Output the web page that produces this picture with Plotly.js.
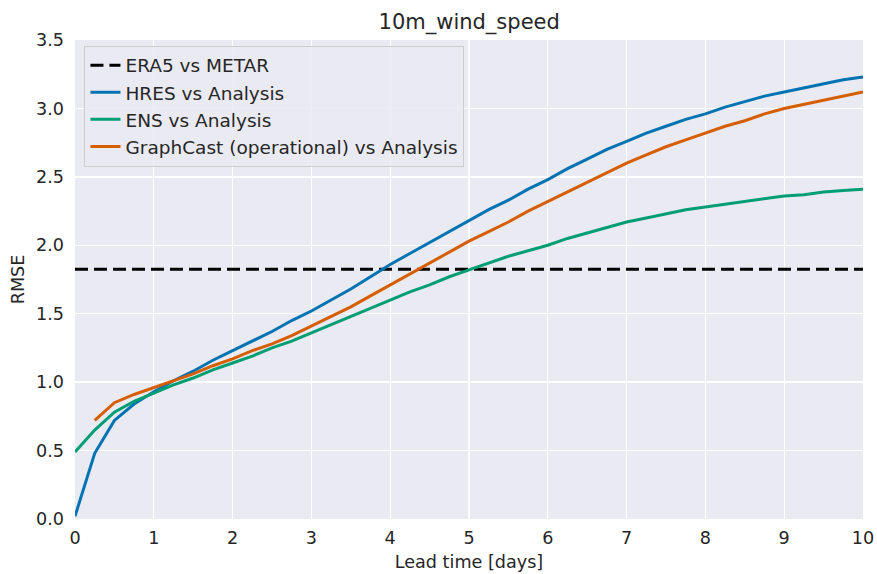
<!DOCTYPE html>
<html><head><meta charset="utf-8">
<script src="https://cdn.plot.ly/plotly-3.0.1.min.js"></script>
<style>body{margin:0;padding:0;}#chart{width:877px;height:574px;}</style>
</head><body><div id="chart"></div>
<script>
const leadDays = [0,0.25,0.5,0.75,1,1.25,1.5,1.75,2,2.25,2.5,2.75,3,3.25,3.5,3.75,4,4.25,4.5,4.75,5,5.25,5.5,5.75,6,6.25,6.5,6.75,7,7.25,7.5,7.75,8,8.25,8.5,8.75,9,9.25,9.5,9.75,10];
const hres = [0.02,0.48,0.72,0.84,0.93,1.01,1.08,1.16,1.23,1.30,1.37,1.45,1.52,1.60,1.68,1.77,1.86,1.94,2.02,2.10,2.18,2.26,2.33,2.41,2.48,2.56,2.63,2.70,2.76,2.82,2.87,2.92,2.96,3.01,3.05,3.09,3.12,3.15,3.18,3.21,3.23];
const ens = [0.49,0.65,0.78,0.86,0.92,0.98,1.03,1.09,1.14,1.19,1.25,1.30,1.36,1.42,1.48,1.54,1.60,1.66,1.71,1.77,1.82,1.87,1.92,1.96,2.00,2.05,2.09,2.13,2.17,2.20,2.23,2.26,2.28,2.30,2.32,2.34,2.36,2.37,2.39,2.40,2.41];
const graphcastDays = leadDays.slice(1);
const graphcast = [0.72,0.85,0.91,0.96,1.01,1.06,1.12,1.17,1.23,1.28,1.34,1.41,1.48,1.55,1.63,1.71,1.79,1.87,1.95,2.03,2.10,2.17,2.25,2.32,2.39,2.46,2.53,2.60,2.66,2.72,2.77,2.82,2.87,2.91,2.96,3.00,3.03,3.06,3.09,3.12];
const era5Metar = 1.825;
const seriesNames = ["ERA5 vs METAR","HRES vs Analysis","ENS vs Analysis","GraphCast (operational) vs Analysis"];

const txt = '#262626';
const font = {family:'DejaVu Sans', size:17.6, color:txt};
const traces = [
  {x:[0,10], y:[era5Metar, era5Metar], mode:'lines', name:seriesNames[0],
   line:{color:'#000000', width:3, dash:'13px,6px'}},
  {x:leadDays, y:hres, mode:'lines', name:seriesNames[1], line:{color:'#0173B2', width:3}},
  {x:leadDays, y:ens, mode:'lines', name:seriesNames[2], line:{color:'#029E73', width:3}},
  {x:graphcastDays, y:graphcast, mode:'lines', name:seriesNames[3], line:{color:'#D55E00', width:3}}
];
const layout = {
  width:877, height:574,
  margin:{l:75, r:14, t:40, b:55},
  paper_bgcolor:'#ffffff', plot_bgcolor:'#EAEAF2',
  font:font,
  title:{text:'10m_wind_speed', font:{family:'DejaVu Sans', size:21, color:txt}, x:0.535, xanchor:'center', y:0.963, yanchor:'middle'},
  xaxis:{range:[0,10], dtick:1, tick0:0, showgrid:true, gridcolor:'#ffffff', gridwidth:1.3, zeroline:false, showline:false,
         ticks:'', ticklabelstandoff:6, tickfont:font, title:{text:'Lead time [days]', font:font, standoff:9}},
  yaxis:{range:[0,3.5], dtick:0.5, tick0:0, tickformat:'.1f', showgrid:true, gridcolor:'#ffffff', gridwidth:1.3, zeroline:false, showline:false,
         ticks:'', ticklabelstandoff:10, tickfont:font, title:{text:'RMSE', font:font, standoff:6}},
  showlegend:true,
  legend:{x:0.012, y:0.988, xanchor:'left', yanchor:'top', bgcolor:'rgba(234,234,242,0.85)', bordercolor:'#cccccc', borderwidth:1,
          font:{family:'DejaVu Sans', size:18.5, color:txt}, traceorder:'normal'}
};
Plotly.newPlot('chart', traces, layout, {displayModeBar:false, staticPlot:true});
</script></body></html>
